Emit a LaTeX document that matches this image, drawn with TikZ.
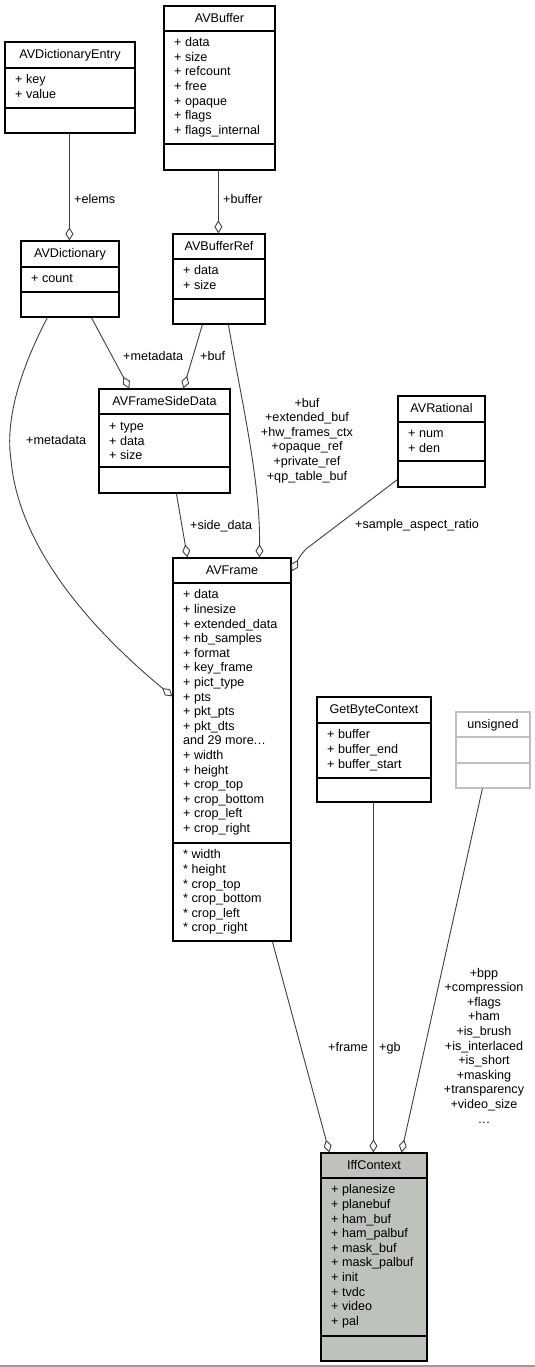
\documentclass[tikz,border=0pt]{standalone}
\usepackage{fontspec}
\setmainfont{Liberation Sans}
\usetikzlibrary{arrows.meta,fit,calc}
\definecolor{connc}{HTML}{404040}
\definecolor{iffgray}{HTML}{BFC1BD}
\definecolor{lgray}{HTML}{C0C0C0}
\newcommand\fs{\fontsize{12.6}{14.6}\selectfont}
\newcommand\threedots{.\kern0.5pt.\kern0.5pt.}
\tikzset{
  boxl/.style={line width=1.2pt},
  conn/.style={draw=connc, line width=0.9pt,
    -{Diamond[fill=white, length=13pt, width=8pt]}},
  txt/.style={inner sep=0pt, font=\fs},
}
% [#1 style] #2 name, #3 x1, #4 y1, #5 x2, #6 ytitle, #7 yattr, #8 y2, #9 title
\newcommand\umlclass[9][draw=black]{%
  \node[fit={(#3,#4) (#5,#8)}, inner sep=0pt, boxl, #1] (#2) {};
  \draw[boxl, #1, fill=none] (#3,#6) -- (#5,#6);
  \draw[boxl, #1, fill=none] (#3,#7) -- (#5,#7);
  \node[txt, anchor=base] at ({(#3+#5)/2},{#4+16.5}) {#9};
}
% #1 x, #2 first baseline, #3 list
\newcommand\members[3]{%
  \foreach \t [count=\i from 0] in {#3} {\node[txt, anchor=base west] at (#1,{#2+\i*14.6}) {\t};}
}
\newcommand\clabel[3]{%
  \foreach \t [count=\i from 0] in {#3} {\node[txt, anchor=base] at (#1,{#2+\i*14.6}) {\t};}
}
\begin{document}
\begin{tikzpicture}[x=1pt,y=-1pt]
\fill[white] (0,0) rectangle (535,1367);
\useasboundingbox (0,0) rectangle (535,1367);
\draw[lgray!80!black, line width=1.2pt] (0,1366) -- (535,1366);

% classes
\umlclass{avde}{5}{42}{135}{68}{108}{133}{AVDictionaryEntry}
\members{15}{84}{+ key,+ value}

\umlclass{avb}{164}{6}{275}{31}{144}{170}{AVBuffer}
\members{174}{46.8}{+ data,+ size,+ refcount,+ free,+ opaque,+ flags,+ flags\_internal}

\umlclass{avbr}{173}{234}{265}{259}{299}{324}{AVBufferRef}
\members{183}{274.8}{+ data,+ size}

\umlclass{avd}{21}{241}{119}{267}{292}{317}{AVDictionary}
\members{31}{282.8}{+ count}

\umlclass{avfsd}{99}{389}{230}{414}{467}{493}{AVFrameSideData}
\members{109}{430.5}{+ type,+ data,+ size}

\umlclass{avr}{398}{396}{485}{422}{461}{487}{AVRational}
\members{408}{437.8}{+ num,+ den}

\umlclass{avf}{173}{558}{291}{583}{843}{941}{AVFrame}
\members{183}{598.8}{+ data,+ linesize,+ extended\_data,+ nb\_samples,+ format,+ key\_frame,+ pict\_type,+ pts,+ pkt\_pts,+ pkt\_dts,{and 29 more\threedots},+ width,+ height,+ crop\_top,+ crop\_bottom,+ crop\_left,+ crop\_right}
\members{183}{858.8}{* width,* height,* crop\_top,* crop\_bottom,* crop\_left,* crop\_right}

\umlclass{gbc}{317}{697}{431}{723}{778}{802}{GetByteContext}
\members{327}{738.8}{+ buffer,+ buffer\_end,+ buffer\_start}

\umlclass[draw=lgray]{uns}{456}{712}{530}{737}{763}{788}{unsigned}

\umlclass[draw=black, fill=iffgray]{iff}{321}{1153}{427}{1178}{1336}{1361}{IffContext}
\members{331}{1193.8}{+ planesize,+ planebuf,+ ham\_buf,+ ham\_palbuf,+ mask\_buf,+ mask\_palbuf,+ init,+ tvdc,+ video,+ pal}

% connectors
\draw[conn] ($(avde.south west)+(65,0)$) -- ($(avd.north west)+(49,0)$);
\draw[conn] ($(avb.south west)+(55,0)$) -- ($(avbr.north west)+(46,0)$);
\draw[conn] ($(avd.south west)+(71,0)$) -- ($(avfsd.north west)+(31,0)$);
\draw[conn] ($(avbr.south west)+(30,0)$) -- ($(avfsd.north west)+(85,0)$);
\draw[conn] ($(avfsd.south west)+(78,0)$) -- ($(avf.north west)+(15,0)$);
\draw[conn] ($(avbr.south west)+(56,0)$) .. controls ($(avbr.south west)+(69,76)$) and ($(avbr.south west)+(88,156)$) .. ($(avf.north west)+(87,0)$);
\draw[conn] ($(avr.south west)+(0,-8)$) -- (306,549) .. controls (300,556) .. ($(avf.north east)+(0,14)$);
\draw[conn] ($(avd.south west)+(27,0)$) .. controls (20,370) and (5,420) .. (11,460) .. controls (18,540) and (80,620) .. ($(avf.north west)+(0,139)$);
\draw[conn] ($(avf.south west)+(100,0)$) -- ($(iff.north west)+(9,0)$);
\draw[conn] ($(gbc.south west)+(57,0)$) -- ($(iff.north west)+(53,0)$);
\draw[conn] ($(uns.south west)+(27,0)$) -- ($(iff.north west)+(81,0)$);

% connector labels
\node[txt, anchor=base west] (l1) at (74,204) {+elems};
\node[txt, anchor=base west] (l2) at (223,204) {+buffer};
\node[txt, anchor=base west] (l3) at (123,360) {+metadata};
\node[txt, anchor=base west] (l4) at (200,360) {+buf};
\node[txt, anchor=base west] (l5) at (26,444) {+metadata};
\clabel{307}{407}{+buf,+extended\_buf,+hw\_frames\_ctx,+opaque\_ref,+private\_ref,+qp\_table\_buf}
\node[txt, anchor=base west] (l6) at (190,529) {+side\_data};
\node[txt, anchor=base west] (l7) at (355,528) {+sample\_aspect\_ratio};
\node[txt, anchor=base west] (l8) at (328,1051) {+frame};
\node[txt, anchor=base west] (l9) at (379,1051) {+gb};
\clabel{484}{977}{+bpp,+compression,+flags,+ham,+is\_brush,+is\_interlaced,+is\_short,+masking,+transparency,+video\_size,{\threedots}}
\end{tikzpicture}
\end{document}
